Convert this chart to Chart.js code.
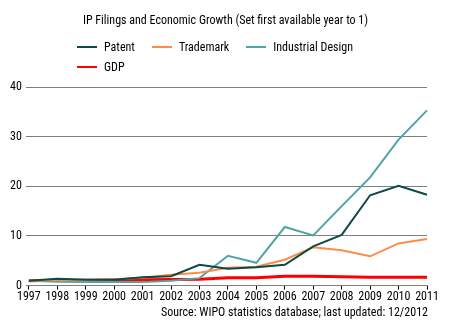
<!DOCTYPE html>
<html>
<head>
<meta charset="utf-8">
<script src="https://cdn.jsdelivr.net/npm/chart.js@4.4.0/dist/chart.umd.min.js"></script>
<style>
  html, body { margin: 0; padding: 0; background: #fff; }
  #wrap { position: relative; width: 451px; height: 330px; font-family: Roboto, sans-serif; font-stretch: condensed; color: #000; }
  #chart { position: absolute; left: 0; top: 0; }
  .title { position: absolute; top: 13px; left: 0; width: 451px; text-align: center; font-size: 12px; }
  .legend { position: absolute; left: 77px; top: 37px; width: 300px; font-size: 12px; display: flex; flex-wrap: wrap; }
  .legend .item { display: flex; align-items: center; margin-right: 17px; height: 20px; }
  .legend .swatch { display: inline-block; width: 20px; height: 2px; margin-right: 7px; }
  .source { position: absolute; right: 23px; top: 305px; font-size: 12px; }
</style>
</head>
<body>
<div id="wrap">
  <canvas id="chart" width="451" height="330"></canvas>
  <div class="title">IP Filings and Economic Growth (Set first available year to 1)</div>
  <div class="legend" id="legend"></div>
  <div class="source">Source: WIPO statistics database; last updated: 12/2012</div>
</div>
<script>
// -------- Data ----------
const years = ["1997","1998","1999","2000","2001","2002","2003","2004","2005","2006","2007","2008","2009","2010","2011"];
const patent = [1.0, 1.4, 1.2, 1.2, 1.7, 1.9, 4.2, 3.4, 3.7, 4.2, 7.9, 10.2, 18.2, 20.1, 18.3];
const trademark = [1.0, 1.1, 1.1, 1.3, 1.6, 2.2, 2.6, 3.6, 3.8, 5.2, 7.7, 7.1, 5.9, 8.5, 9.4];
const industrialDesign = [1.0, 0.8, 0.7, 0.7, 0.7, 1.0, 1.5, 6.0, 4.6, 11.8, 10.1, 16.0, 21.8, 29.4, 35.3];
const gdp = [1.0, 1.1, 1.1, 1.15, 1.2, 1.25, 1.3, 1.6, 1.6, 1.9, 1.9, 1.8, 1.7, 1.7, 1.7];
const yTicks = [0, 10, 20, 30, 40];

const series = [
  { label: "Patent", data: patent, color: "#0b4a45", width: 2 },
  { label: "Trademark", data: trademark, color: "#ff8a4c", width: 2 },
  { label: "Industrial Design", data: industrialDesign, color: "#50a4a6", width: 2 },
  { label: "GDP", data: gdp, color: "#ff0000", width: 3 }
];

// legend (html, left aligned flow like the original)
const legend = document.getElementById("legend");
series.forEach(s => {
  const it = document.createElement("span");
  it.className = "item";
  it.innerHTML = `<span class="swatch" style="background:${s.color}"></span>${s.label}`;
  legend.appendChild(it);
});

// "condensed" goes into the canvas font string through the weight slot
const tickFont = { family: "Roboto", size: 12, weight: "condensed" };

new Chart(document.getElementById("chart").getContext("2d"), {
  type: "line",
  data: {
    labels: years,
    datasets: series.map(s => ({
      label: s.label,
      data: s.data,
      borderColor: s.color,
      backgroundColor: s.color,
      borderWidth: s.width,
      pointRadius: 0,
      tension: 0
    }))
  },
  options: {
    responsive: false,
    animation: false,
    layout: { padding: { top: 87, left: 6, right: 24, bottom: 26 } },
    plugins: {
      legend: { display: false },
      title: { display: false },
      tooltip: { enabled: false }
    },
    scales: {
      x: {
        offset: false,
        grid: { drawOnChartArea: false, drawTicks: true, tickLength: 4, color: "#000" },
        border: { display: true, color: "#808080", width: 1 },
        ticks: { color: "#000", font: tickFont, padding: 0, maxRotation: 0, autoSkip: false }
      },
      y: {
        min: 0,
        max: 40,
        afterBuildTicks: axis => { axis.ticks = yTicks.map(v => ({ value: v })); },
        grid: { color: "#808080", tickLength: 3, lineWidth: 1 },
        border: { display: false },
        ticks: { color: "#000", font: tickFont, padding: 4 }
      }
    }
  }
});
</script>
</body>
</html>
